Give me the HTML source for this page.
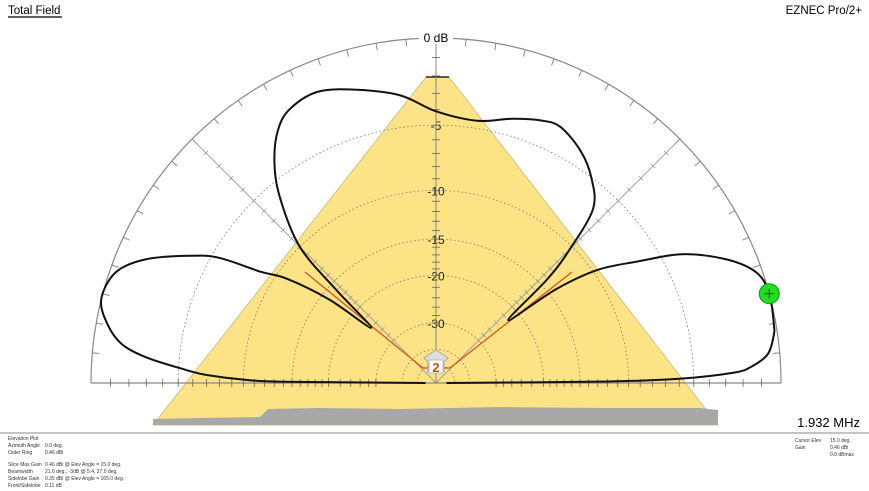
<!DOCTYPE html>
<html><head><meta charset="utf-8"><style>
body{margin:0;background:#fff;width:869px;height:491px;overflow:hidden;font-family:"Liberation Sans",sans-serif}
svg{position:absolute;left:0;top:0}
</style></head><body>
<svg width="869" height="491" font-family="Liberation Sans, sans-serif">
<text x="8" y="14" font-size="11.5">Total Field</text>
<line x1="8" y1="17" x2="62" y2="17" stroke="#000" stroke-width="1.2"/>
<text x="862" y="14" font-size="11.5" text-anchor="end">EZNEC Pro/2+</text>
<polygon points="426,77 449,77 718,425 153,425" fill="#fce386" stroke="#c8b878" stroke-width="0.8"/>
<polygon points="153,425 153,419 200,418 260,417 268,409 320,408 400,409 500,407 600,408 700,408 718,410 718,425" fill="#a8a8a8"/>
<line x1="426" y1="77" x2="449" y2="77" stroke="#000" stroke-width="1.2"/>
<g id="grid"></g>
<g id="marks"></g>
<text x="860" y="427" font-size="13" text-anchor="end">1.932 MHz</text>
<line x1="0" y1="433" x2="869" y2="433" stroke="#888" stroke-width="1"/>
<g font-size="5" fill="#333">
<text x="8" y="440">Elevation Plot</text>
<text x="8" y="447">Azimuth Angle</text><text x="45" y="447">0.0 deg.</text>
<text x="8" y="454">Outer Ring</text><text x="45" y="454">0.46 dBi</text>
<text x="8" y="466">Slice Max Gain</text><text x="45" y="466">0.46 dBi @ Elev Angle = 15.0 deg.</text>
<text x="8" y="473">Beamwidth</text><text x="45" y="473">21.6 deg.; -3dB @ 5.4, 27.0 deg.</text>
<text x="8" y="480">Sidelobe Gain</text><text x="45" y="480">0.35 dBi @ Elev Angle = 165.0 deg.</text>
<text x="8" y="487">Front/Sidelobe</text><text x="45" y="487">0.11 dB</text>
<text x="795" y="442">Cursor Elev</text><text x="830" y="442">15.0 deg.</text>
<text x="795" y="449">Gain</text><text x="830" y="449">0.46 dBi</text>
<text x="830" y="456">0.0 dBmax</text>
</g>
</svg>
<script>
const angles=[0,0.5,1,2,3,5,8,10,15,19,23,27.6,31,35,38,41,43,45,48,53,58,64,68,74,81,90,97,105,112,118,122,126,130,135,137,139.5,142,145,147.6,150,152.6,157,161,166,170,173,175,177,178,179,179.5,180];
const gainDb=[-60,-12,-6,-2.5,-1.5,-0.6,-0.2,-0.1,0,-0.3,-1.5,-3.7,-6.5,-9.6,-14,-22,-14,-10.3,-6.6,-5,-4,-3.3,-3.4,-3.9,-4.5,-4.1,-3.0,-2.2,-1.6,-1.8,-2.5,-3.9,-6,-10,-16,-24,-16,-11,-8.7,-5.5,-3.8,-1.5,-0.3,0,-0.6,-1.5,-3,-5.5,-7,-10,-14,-60];
const ringDb=[-5,-10,-15,-20,-30,-40,-50];
const ringLabels=["-5","-10","-15","-20","-30","",""];
const cursorAngle=15, cursorDb=0;
const CX=436,CY=383,R=345,NS="http://www.w3.org/2000/svg";
function rad(db){return R*Math.pow(0.89,-db/2);}
function pt(a,db){const r=rad(db),t=a*Math.PI/180;return [CX+r*Math.cos(t),CY-r*Math.sin(t)];}
function mk(tag,at,parent){const e=document.createElementNS(NS,tag);for(const k in at)e.setAttribute(k,at[k]);parent.appendChild(e);return e;}
const g=document.getElementById('grid'),m=document.getElementById('marks');
let e=mk('path',{d:`M${CX-R},${CY} A${R},${R} 0 0 1 ${CX+R},${CY}`,fill:'none',stroke:'#888','stroke-width':1.2},g);


ringDb.forEach((d,i)=>{const r=rad(d);
 const c=mk('path',{d:`M${CX-r},${CY} A${r},${r} 0 0 1 ${CX+r},${CY}`,fill:'none',stroke:'#777','stroke-width':0.8,'stroke-dasharray':'1.5,2.5'},g);
 
 
 if(ringLabels[i]){
  const t=mk('text',{x:CX,y:CY-r+5,'font-size':12,'text-anchor':'middle',fill:'#222'},g);t.textContent=ringLabels[i];
  
  }
});
for(let a=5;a<180;a+=5){const t=a*Math.PI/180;const c=Math.cos(t),s=Math.sin(t);
 mk('line',{x1:CX+R*c,y1:CY-R*s,x2:CX+(R-7)*c,y2:CY-(R-7)*s,stroke:'#888','stroke-width':1},g);}
function dbTicks(){const a=[];for(let d=-1;d>=-30;d-=(d>-20?1:2))a.push(d);return a;}
[45,135].forEach(a=>{const t=a*Math.PI/180,c=Math.cos(t),s=Math.sin(t);
 const sp=mk('line',{x1:CX,y1:CY,x2:CX+R*c,y2:CY-R*s,stroke:'#999','stroke-width':0.9},g);
 
 
 dbTicks().forEach(d=>{const r=rad(d);const px=CX+r*c,py=CY-r*s;
  mk('line',{x1:px-3*s,y1:py-3*c,x2:px+3*s,y2:py+3*c,stroke:'#999','stroke-width':0.8},g);});
});
e=mk('line',{x1:CX-R,y1:CY,x2:CX+R,y2:CY,stroke:'#888','stroke-width':1.2},g);


e=mk('line',{x1:CX,y1:CY,x2:CX,y2:CY-R,stroke:'#888','stroke-width':1},g);


dbTicks().forEach(d=>{const r=rad(d);
 [CX-r,CX+r].forEach(x=>mk('line',{x1:x,y1:CY-4,x2:x,y2:CY+4,stroke:'#666','stroke-width':0.8},g));
 mk('line',{x1:CX-4,y1:CY-r,x2:CX+4,y2:CY-r,stroke:'#666','stroke-width':0.8},g);});
mk('rect',{x:CX-17,y:30,width:34,height:14,fill:'#fff'},g);
const lbl=mk('text',{x:CX,y:42,'font-size':12,'text-anchor':'middle'},g);lbl.textContent='0 dB';


[[423,430,305],[450,443,572]].forEach(([x0,xs,x1])=>{
 const l=mk('polyline',{points:`${xs},368 ${x0},368 ${x1},272`,fill:'none',stroke:'#d2561e','stroke-width':1.3},m);
 
 });
const P=angles.map((a,i)=>pt(a,gainDb[i]));
let d=`M${P[0][0].toFixed(1)},${P[0][1].toFixed(1)}`;
for(let i=0;i<P.length-1;i++){const p0=P[Math.max(0,i-1)],p1=P[i],p2=P[i+1],p3=P[Math.min(P.length-1,i+2)];
 const c1=[p1[0]+(p2[0]-p0[0])/6,p1[1]+(p2[1]-p0[1])/6],c2=[p2[0]-(p3[0]-p1[0])/6,p2[1]-(p3[1]-p1[1])/6];
 d+=` C${c1[0].toFixed(1)},${c1[1].toFixed(1)} ${c2[0].toFixed(1)},${c2[1].toFixed(1)} ${p2[0].toFixed(1)},${p2[1].toFixed(1)}`;}
const pl=mk('path',{d:d,fill:'none',stroke:'#111','stroke-width':2,'stroke-linejoin':'round'},m);


const ic=mk('polygon',{points:'436,350 448,358 444,362 444,372 428,372 428,362 424,358',fill:'#ddd',stroke:'#aaa'},m);


mk('rect',{x:429,y:360,width:14,height:13,fill:'#fff',stroke:'#bbb'},m);
const n=mk('text',{x:436,y:372,'font-size':13,'font-weight':'bold','text-anchor':'middle',fill:'#c0501c'},m);n.textContent='2';
const cp=pt(cursorAngle,cursorDb);
const cur=mk('circle',{cx:cp[0],cy:cp[1],r:10,fill:'#22dd22',stroke:'#119911'},m);


mk('line',{x1:cp[0]-5,y1:cp[1],x2:cp[0]+5,y2:cp[1],stroke:'#116611'},m);
mk('line',{x1:cp[0],y1:cp[1]-5,x2:cp[0],y2:cp[1]+5,stroke:'#116611'},m);
</script>
</body></html>
